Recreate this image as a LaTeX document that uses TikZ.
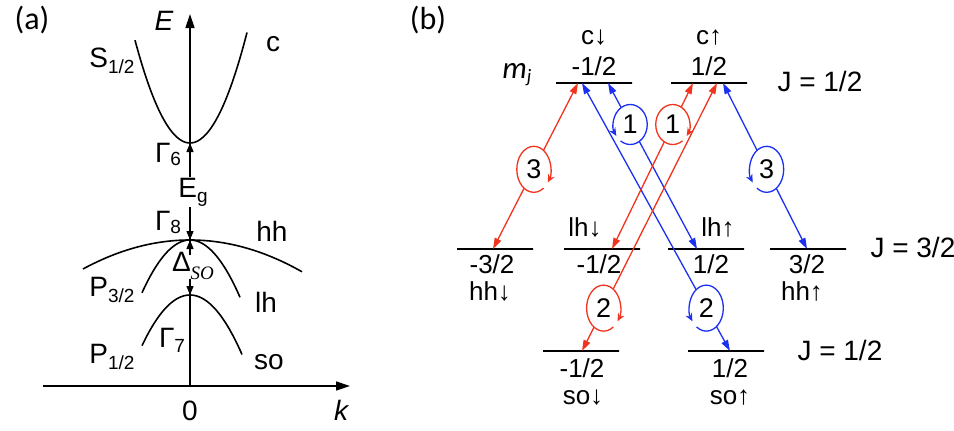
\documentclass[tikz,border=0pt]{standalone}
\usepackage{fontspec}
\setmainfont{Liberation Sans}
\newfontfamily\calfont{Carlito}
\newfontfamily\serfont{Liberation Serif}
\usetikzlibrary{arrows.meta,positioning,shapes.geometric}

\definecolor{tred}{RGB}{240,52,30}
\definecolor{tblue}{RGB}{28,48,240}
% lowered, smaller subscript
\newcommand{\lsub}[2][6pt]{\raisebox{-#1}{\fontsize{19}{19}\selectfont #2}}

\begin{document}
\begin{tikzpicture}[
    x=1pt, y=-1pt,
    font=\fontsize{28}{30}\selectfont,
    inner sep=1.5pt,
    lvltext/.style={font=\fontsize{26}{28}\selectfont, inner sep=0pt},
    level/.style={rectangle, draw, line width=1.6pt, minimum width=76pt, minimum height=0pt, inner sep=0pt},
    band/.style={line width=1.6pt, smooth, samples=60},
    axis/.style={line width=1.4pt, -{Triangle[length=14pt,width=9pt]}},
    gap/.style={line width=1.4pt, -{Triangle[length=9pt,width=7pt]}},
    trans/.style={line width=1.3pt, {Triangle[length=11pt,width=7pt]}-{Triangle[length=11pt,width=7pt]}},
    pol/.style={ellipse, fill=white, text=black, minimum width=34pt, minimum height=46pt, inner sep=0pt, font=\fontsize{27}{28}\selectfont},
    pol1/.style={pol, minimum height=40pt},
    polarc/.style={line width=1.3pt, -{Stealth[length=8pt,width=7pt]}}
]
\useasboundingbox (0,0) rectangle (954,431);

% (a) bands near k = 0
\node (lbla) at (32,20) {\calfont\fontsize{32}{32}\selectfont (a)};
\coordinate (O) at (190,386);
\coordinate (kstart) at (43,386);
\coordinate (kend) at (350,386);
\coordinate (Etop) at (190,14);
\draw[axis] (kstart) -- (kend);
\draw[axis] (O) -- (Etop);
\node (Elbl) at (164,21) {\itshape E};
\node (klbl) at (341,410) {\itshape k};
\node (zero) at (190,411) {0};

\node[fill=white, inner sep=0.5pt] (Eg) at (193,192) {E\lsub[5pt]{g}};
\node[fill=white, inner sep=0pt] (dso) at (193,266) {Δ\lsub[8pt]{\serfont\itshape SO}};

\draw[band] plot[domain=-55:57] ({190+\x}, {143-0.034*\x*\x});
\draw[band] plot[domain=-107:112] ({190+\x}, {240+0.00253*\x*\x});
\draw[band] plot[domain=-48:50] ({190+\x}, {240+0.0229*\x*\x});
\draw[band] plot[domain=-48:52] ({190+\x}, {295+0.022*\x*\x});
\coordinate (cmin) at (190,143);
\coordinate (vtop) at (190,240);
\coordinate (sotop) at (190,295);

\coordinate (eg-up) at (190,174);
\coordinate (eg-dn) at (190,210);
\coordinate (so-up) at (190,255);
\coordinate (so-dn) at (190,279);
\draw[gap] (eg-up) -- (cmin);
\draw[gap] (eg-dn) -- (vtop);
\draw[gap] (so-up) -- (vtop);
\draw[gap] (so-dn) -- (sotop);

\node (G6) at (168,154) {Γ\lsub[3pt]{6}};
\node (G8) at (168,222) {Γ\lsub[3pt]{8}};
\node (G7) at (172,340) {Γ\lsub[5pt]{7}};
\node (S12) at (112,61) {S\lsub{1/2}};
\node (P32) at (112,290) {P\lsub{3/2}};
\node (P12) at (112,357) {P\lsub{1/2}};
\node (cb) at (273,44) {c};
\node (hh) at (272,231) {hh};
\node (lh) at (266,302) {lh};
\node (so) at (269,362) {so};

% (b) levels and transitions
\node (lblb) at (428,20) {\calfont\fontsize{32}{32}\selectfont (b)};
\node[anchor=base] (mj) at (517,78) {\calfont\itshape\fontsize{31}{31}\selectfont m\lsub[4pt]{j}};

\node[level] (cdn) at (594,83) {};
\node[level] (cup) at (709,83) {};
\node[level] (hhdn) at (495,249) {};
\node[level] (lhdn) at (602,249) {};
\node[level] (lhup) at (706,249) {};
\node[level] (hhup) at (808,249) {};
\node[level] (sodn) at (581,351) {};
\node[level] (soup) at (726,351) {};

\node[lvltext, above=7pt of cdn, anchor=base] (cdn-m) {-1/2};
\node[lvltext, above=38pt of cdn, anchor=base] (cdn-s) {c↓};
\node[lvltext, above=7pt of cup, anchor=base] (cup-m) {1/2};
\node[lvltext, above=38pt of cup, anchor=base] (cup-s) {c↑};
\node[right=28pt of cup, anchor=base west, yshift=-8pt] (J1top) {J = 1/2};

\node[lvltext, below=24pt of hhdn, anchor=base, xshift=-3pt] (hhdn-m) {-3/2};
\node[lvltext, below=51pt of hhdn, anchor=base, xshift=-5pt] (hhdn-s) {hh↓};
\node[lvltext, above=12pt of lhdn, anchor=base, xshift=-17pt] (lhdn-s) {lh↓};
\node[lvltext, below=24pt of lhdn, anchor=base, xshift=-3pt] (lhdn-m) {-1/2};
\node[lvltext, above=12pt of lhup, anchor=base, xshift=12pt] (lhup-s) {lh↑};
\node[lvltext, below=24pt of lhup, anchor=base, xshift=5pt] (lhup-m) {1/2};
\node[lvltext, below=24pt of hhup, anchor=base, xshift=-1pt] (hhup-m) {3/2};
\node[lvltext, below=51pt of hhup, anchor=base, xshift=-6pt] (hhup-s) {hh↑};
\node[right=22pt of hhup, anchor=base west, yshift=-8pt] (J32) {J = 3/2};

\node[lvltext, below=26pt of sodn, anchor=base, xshift=1pt] (sodn-m) {-1/2};
\node[lvltext, below=53pt of sodn, anchor=base, xshift=2pt] (sodn-s) {so↓};
\node[lvltext, below=26pt of soup, anchor=base, xshift=4pt] (soup-m) {1/2};
\node[lvltext, below=53pt of soup, anchor=base, xshift=4pt] (soup-s) {so↑};
\node[right=31pt of soup, anchor=base west, yshift=-9pt] (J1bot) {J = 1/2};

\draw[trans, tred] ([xshift=-16pt]cdn.center) -- node[pol, pos=0.52] (r3) {3} ([xshift=-2pt]hhdn.center);
\draw[trans, tblue] ([xshift=-12pt]cdn.center) -- node[pol, pos=0.84] (b2) {2} ([xshift=4pt]soup.center);
\draw[trans, tblue] ([xshift=14pt]cdn.center) -- node[pol1, pos=0.25] (b1) {1} ([xshift=-9pt]lhup.center);
\draw[trans, tred] ([xshift=-16pt]cup.center) -- node[pol1, pos=0.25] (r1) {1} ([xshift=10pt]lhdn.center);
\draw[trans, tred] ([xshift=8pt]cup.center) -- node[pol, pos=0.84] (r2) {2} ([xshift=1pt]sodn.center);
\draw[trans, tblue] ([xshift=14pt]cup.center) -- node[pol, pos=0.52] (b3) {3} ([xshift=-1pt]hhup.center);

% circular polarisation: red clockwise, blue anticlockwise
\draw[polarc, tred] (r3.center) ++(-55:17pt and 23pt) arc[start angle=-55, end angle=-395, x radius=17pt, y radius=23pt];
\draw[polarc, tred] (r1.center) ++(-55:17pt and 20pt) arc[start angle=-55, end angle=-395, x radius=17pt, y radius=20pt];
\draw[polarc, tred] (r2.center) ++(-55:17pt and 23pt) arc[start angle=-55, end angle=-395, x radius=17pt, y radius=23pt];
\draw[polarc, tblue] (b3.center) ++(-125:17pt and 23pt) arc[start angle=-125, end angle=215, x radius=17pt, y radius=23pt];
\draw[polarc, tblue] (b1.center) ++(-125:17pt and 20pt) arc[start angle=-125, end angle=215, x radius=17pt, y radius=20pt];
\draw[polarc, tblue] (b2.center) ++(-125:17pt and 23pt) arc[start angle=-125, end angle=215, x radius=17pt, y radius=23pt];
\end{tikzpicture}
\end{document}
